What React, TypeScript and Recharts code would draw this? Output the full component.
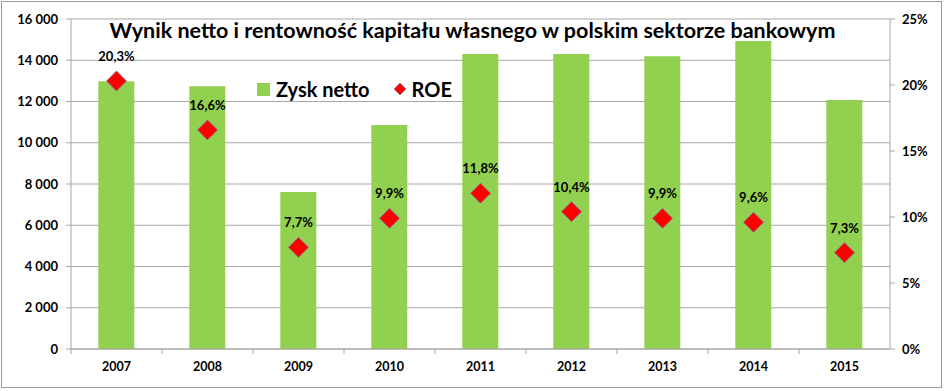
import { Bar, CartesianGrid, ComposedChart, LabelList, Line, XAxis, YAxis } from "recharts";

const years = ["2007", "2008", "2009", "2010", "2011", "2012", "2013", "2014", "2015"];
const zyskNetto = [12980, 12740, 7610, 10860, 14300, 14300, 14200, 14930, 12070];
const roe = [20.3, 16.6, 7.7, 9.9, 11.8, 10.4, 9.9, 9.6, 7.3];
const leftTicks = [0, 2000, 4000, 6000, 8000, 10000, 12000, 14000, 16000];
const rightTicks = [0, 5, 10, 15, 20, 25];

const data = years.map((year, i) => ({ year, zysk: zyskNetto[i], roe: roe[i] }));

const FONT = "Lato, 'Open Sans', sans-serif";
const GREEN = "#92D050";
const GRID = "#a6a6a6";

function fmtThousands(v: number) {
  return v.toLocaleString("en-US").replace(/,/g, " ");
}

function fmtPct(v: number) {
  return v.toFixed(1).replace(".", ",") + "%";
}

function Diamond({ cx, cy }: any) {
  if (cx == null || cy == null) return null;
  const r = 10;
  return (
    <polygon
      points={`${cx},${cy - r} ${cx + r},${cy} ${cx},${cy + r} ${cx - r},${cy}`}
      fill="#FF0000"
      stroke="#7f6fa8"
      strokeWidth={0.8}
    />
  );
}

function RoeLabel({ x, y, value }: any) {
  return (
    <text x={x} y={y - 20} textAnchor="middle" fontFamily={FONT} fontWeight={700} fontSize={13} fill="#000">
      {fmtPct(value)}
    </text>
  );
}

function YearTick({ x, y, payload }: any) {
  const half = 819 / 9 / 2;
  return (
    <g>
      <line x1={x - half} y1={y - 8} x2={x - half} y2={y - 3} stroke={GRID} />
      <text x={x} y={y + 14} textAnchor="middle" fontFamily={FONT} fontWeight={700} fontSize={12.5} fill="#000">
        {payload.value}
      </text>
    </g>
  );
}

export default function App() {
  return (
    <div style={{ position: "absolute", left: 0, top: 0, width: 945, height: 391, background: "#fff" }}>
      <div
        style={{
          position: "absolute",
          left: 1,
          top: 1,
          width: 941,
          height: 387,
          border: "1.5px solid #9a9a9a",
          boxSizing: "border-box",
        }}
      />
      <ComposedChart
        width={945}
        height={391}
        data={data}
        margin={{ top: 19, right: 0, bottom: 12, left: 0 }}
        barCategoryGap="30%"
      >
        <CartesianGrid vertical={false} stroke={GRID} yAxisId="left" />
        <XAxis
          dataKey="year"
          tick={<YearTick />}
          tickLine={false}
          axisLine={{ stroke: GRID }}
          height={30}
          interval={0}
        />
        <YAxis
          yAxisId="left"
          domain={[0, 16000]}
          ticks={leftTicks}
          width={71}
          tickFormatter={fmtThousands}
          tick={{ fill: "#000", fontSize: 13, fontWeight: 700, fontFamily: FONT }}
          axisLine={{ stroke: GRID }}
          tickLine={{ stroke: GRID }}
          tickSize={5}
          tickMargin={8}
        />
        <YAxis
          yAxisId="right"
          orientation="right"
          domain={[0, 25]}
          ticks={rightTicks}
          width={55}
          tickFormatter={(v: number) => v + "%"}
          tick={{ fill: "#000", fontSize: 13, fontWeight: 700, fontFamily: FONT }}
          axisLine={{ stroke: GRID }}
          tickLine={{ stroke: GRID }}
          tickSize={5}
          tickMargin={7}
        />
        <Bar yAxisId="left" dataKey="zysk" fill={GREEN} isAnimationActive={false} />
        <Line
          yAxisId="right"
          dataKey="roe"
          stroke="none"
          dot={<Diamond />}
          activeDot={false}
          isAnimationActive={false}
        >
          <LabelList dataKey="roe" content={<RoeLabel />} />
        </Line>
      </ComposedChart>
      <div
        style={{
          position: "absolute",
          left: 0,
          width: 945,
          top: 17,
          textAlign: "center",
          fontFamily: FONT,
          fontWeight: 700,
          fontSize: 21.5,
          color: "#000",
          whiteSpace: "nowrap",
        }}
      >
        Wynik netto i rentowność kapitału własnego w polskim sektorze bankowym
      </div>
      <div
        style={{
          position: "absolute",
          left: 257,
          top: 77,
          display: "flex",
          alignItems: "center",
          fontFamily: FONT,
          fontWeight: 700,
          fontSize: 20,
          color: "#000",
        }}
      >
        <span style={{ width: 13, height: 13, background: GREEN, display: "inline-block", marginRight: 6 }} />
        <span>Zysk netto</span>
        <svg width={16} height={16} style={{ marginLeft: 22, marginRight: 4 }}>
          <polygon points="8,2 14,8 8,14 2,8" fill="#FF0000" stroke="#7f6fa8" strokeWidth={0.6} />
        </svg>
        <span>ROE</span>
      </div>
    </div>
  );
}
